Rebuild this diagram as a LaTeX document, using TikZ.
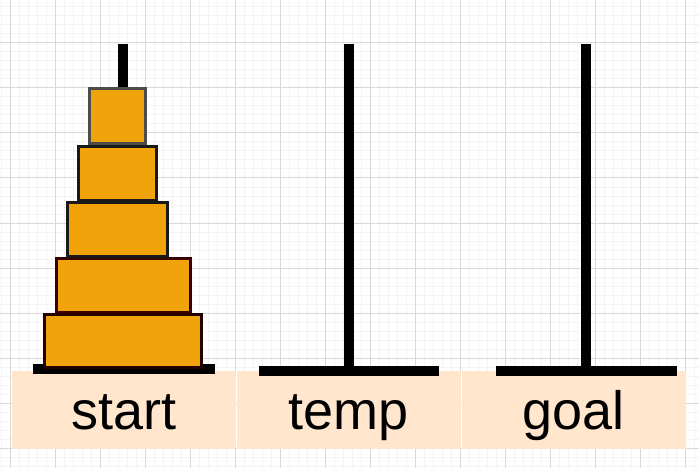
\documentclass[tikz,border=0pt]{standalone}
\usepackage{fontspec}
\setmainfont{Liberation Sans}
\definecolor{peach}{HTML}{FFE6CC}
\definecolor{diskfill}{HTML}{F0A30A}
\definecolor{gridminor}{HTML}{F3F3F3}
\definecolor{gridmajor}{HTML}{D9D9D9}
\definecolor{maroon}{HTML}{3A0000}
\tikzset{
  disk/.style={draw=#1, fill=diskfill, line width=3pt},
  peg/.style={line width=10pt, black},
  basebar/.style={fill=black},
  labelbox/.style={fill=peach},
  lbl/.style={anchor=base, inner sep=0pt, font=\fontsize{54}{60}\selectfont}
}
\begin{document}
\begin{tikzpicture}[x=1pt,y=-1pt]
\useasboundingbox (0,0) rectangle (699,468);
\fill[white] (0,0) rectangle (699,468);
% grid
\foreach \x in {1,10,...,699} \draw[gridminor, line width=1pt] (\x,0) -- (\x,468);
\foreach \y in {7,16,...,468} \draw[gridminor, line width=1pt] (0,\y) -- (699,\y);
\foreach \x in {10,55,...,699} \draw[gridmajor, line width=1pt] (\x,0) -- (\x,468);
\foreach \y in {43,88,...,468} \draw[gridmajor, line width=1pt] (0,\y) -- (699,\y);
% label boxes
\fill[labelbox] (12,371) rectangle (236.2,449);
\fill[labelbox] (236.8,371) rectangle (461.2,449);
\fill[labelbox] (461.8,371) rectangle (686,449);
% pegs
\coordinate (p1t) at (123,44); \coordinate (p1b) at (123,368);
\coordinate (p2t) at (349,44); \coordinate (p2b) at (349,370);
\coordinate (p3t) at (586,44); \coordinate (p3b) at (586,370);
\draw[peg] (p1t) -- (p1b);
\draw[peg] (p2t) -- (p2b);
\draw[peg] (p3t) -- (p3b);
% bases
\fill[basebar] (33,364) rectangle (215,374);
\fill[basebar] (259,366) rectangle (439,376);
\fill[basebar] (496,366) rectangle (677,376);
% disks
\draw[disk=maroon!60!black] (44.5,314.5) rectangle (201.5,367.5);
\draw[disk=maroon] (56.5,258.5) rectangle (190.5,312.5);
\draw[disk=black!90] (67.5,202.5) rectangle (167.5,256.5);
\draw[disk=black!90] (78.5,146.5) rectangle (156.5,200);
\draw[disk=black!70] (89.5,88.5) rectangle (145.5,143.5);
% labels
\node[lbl] (start) at (124,429) {start};
\node[lbl] (temp) at (348.5,429) {temp};
\node[lbl] (goal) at (573.5,429) {goal};
\end{tikzpicture}
\end{document}
